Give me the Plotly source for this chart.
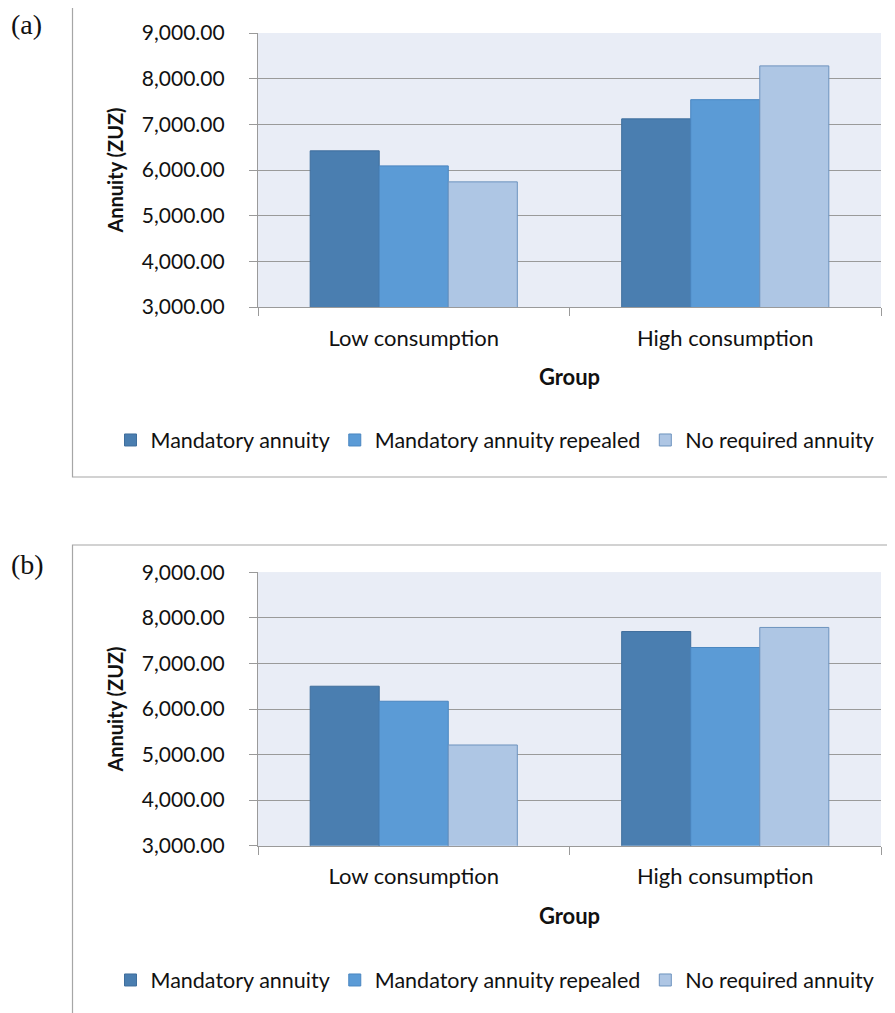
import plotly.graph_objects as go

W, H = 895, 1013
OFF = 8  # default page body margin

categories = ["Low consumption", "High consumption"]
series_names = ["Mandatory annuity", "Mandatory annuity repealed", "No required annuity"]
panel_a = {
    "Mandatory annuity": [6420, 7120],
    "Mandatory annuity repealed": [6090, 7540],
    "No required annuity": [5740, 8280],
}
panel_b = {
    "Mandatory annuity": [6500, 7700],
    "Mandatory annuity repealed": [6170, 7350],
    "No required annuity": [5210, 7790],
}
y_range = [3000, 9000]
y_ticks = [3000, 4000, 5000, 6000, 7000, 8000, 9000]

fill_colors = ["#4A7EB0", "#5B9BD6", "#AEC6E4"]
line_colors = ["#3F6E9C", "#4A86C0", "#6D93BE"]
FONT = "Lato"

fig = go.Figure()

def px_y(y):
    return 1 - (y - OFF) / H

def px_x(x):
    return (x - OFF) / W

panels = [
    ("a", panel_a, "x", "y", "legend", 33, 307, 6, 477, 440, 24),
    ("b", panel_b, "x2", "y2", "legend2", 572.3, 845.7, 545, 1030, 980, 564),
]

for label, data, xa, ya, lg, top, bot, btop, bbot, legy, laby in panels:
    for i, name in enumerate(series_names):
        fig.add_trace(go.Bar(
            x=categories, y=data[name], name=name,
            xaxis=xa, yaxis=ya, legend=lg,
            marker=dict(color=fill_colors[i], line=dict(color=line_colors[i], width=1)),
        ))

layout_axes = {}
for idx, (label, data, xa, ya, lg, top, bot, btop, bbot, legy, laby) in enumerate(panels):
    xkey = "xaxis" if idx == 0 else "xaxis2"
    ykey = "yaxis" if idx == 0 else "yaxis2"
    layout_axes[xkey] = dict(
        domain=[px_x(258), px_x(881)],
        anchor=ya,
        type="category",
        tickson="boundaries",
        ticks="outside", ticklen=8, tickcolor="#9A9A9A", tickwidth=1,
        showline=True, linecolor="#9A9A9A", linewidth=1.3,
        showgrid=False,
        tickfont=dict(family=FONT, size=22, color="#111111"),
        ticklabelstandoff=11,
        title=dict(text="<b>Group</b>", font=dict(family=FONT, size=22, color="#111111"), standoff=20),
        automargin=False,
    )
    layout_axes[ykey] = dict(
        domain=[px_y(bot), px_y(top)],
        anchor=xa,
        range=y_range,
        tickvals=y_ticks,
        tickformat=",.2f",
        ticks="outside", ticklen=8, tickcolor="#9A9A9A", tickwidth=1,
        showline=True, linecolor="#9A9A9A", linewidth=1.3,
        showgrid=True, gridcolor="#9A9A9A", gridwidth=1.3,
        zeroline=False,
        tickfont=dict(family=FONT, size=21, color="#111111"),
        ticklabelstandoff=20,
        title=dict(text="<b>Annuity (ZUZ)</b>", font=dict(family=FONT, size=20, color="#111111"), standoff=12),
        automargin=False,
    )

shapes = []
annotations = []
for idx, (label, data, xa, ya, lg, top, bot, btop, bbot, legy, laby) in enumerate(panels):
    shapes.append(dict(type="rect", xref="paper", yref="paper",
                       x0=px_x(72.5), x1=px_x(910), y0=px_y(bbot), y1=px_y(btop),
                       line=dict(color="#A6A6A6", width=1.2), fillcolor="rgba(0,0,0,0)", layer="below"))
    shapes.append(dict(type="rect", xref=xa + " domain", yref=ya + " domain",
                       x0=0, x1=1, y0=0, y1=1, line=dict(width=0),
                       fillcolor="#E9EDF6", layer="below"))
    annotations.append(dict(text="(%s)" % label, xref="paper", yref="paper",
                            x=px_x(9), y=px_y(laby), xanchor="left", yanchor="middle",
                            showarrow=False, font=dict(family="Liberation Serif", size=28, color="#111111")))

legend_common = dict(
    orientation="h", xanchor="center", yanchor="middle", x=px_x(495),
    font=dict(family=FONT, size=21.5, color="#111111"),
    bgcolor="rgba(0,0,0,0)", itemwidth=30, tracegroupgap=0,
    itemclick=False,
)

fig.update_layout(
    width=W, height=H,
    margin=dict(l=0, r=0, t=0, b=0),
    paper_bgcolor="white", plot_bgcolor="#E9EDF6",
    barmode="group", bargap=0.335, bargroupgap=0,
    shapes=shapes, annotations=annotations,
    showlegend=True,
    legend=dict(y=px_y(440), **legend_common),
    legend2=dict(y=px_y(980), **legend_common),
    **layout_axes,
)

fig.write_html("out.html")
